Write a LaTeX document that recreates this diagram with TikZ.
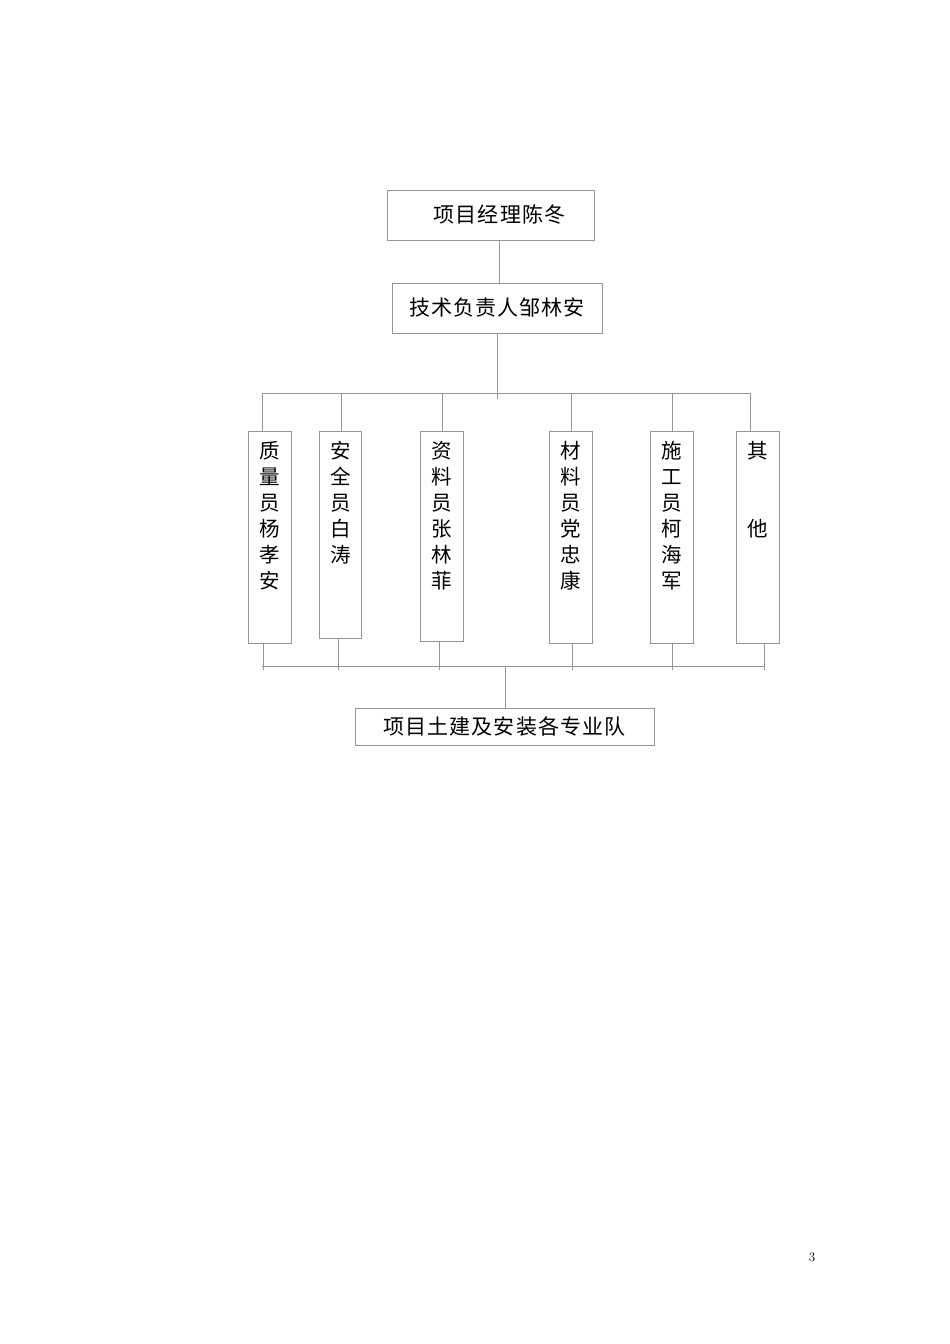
\documentclass[tikz,border=0pt]{standalone}
\usepackage{fontspec}
\usepackage{xcolor}
\usepackage{tikz}
\newfontfamily\cjk[LetterSpace=5]{Noto Sans CJK SC}
\newfontfamily\cjkv{Noto Sans CJK SC}
\definecolor{linegray}{RGB}{150,150,150}
\newcommand{\vtext}[2]{\parbox[c][#1][t]{40pt}{\centering\vspace*{10pt}#2}}
\tikzset{
  line/.style={draw=linegray,line width=0.8pt},
  hbox/.style={line,inner sep=0pt,font=\cjk\fontsize{21}{26}\selectfont},
  vbox/.style={line,inner sep=0pt,anchor=north west,minimum width=43pt,
    font=\cjkv\fontsize{20.5}{26}\selectfont}
}

\begin{document}
\begin{tikzpicture}[x=1pt,y=-1pt]
                \useasboundingbox (0,0) rectangle (950,1344);
                \node[hbox,minimum width=207pt,minimum height=50pt] (pm) at (490.5,215) {\raisebox{2pt}{\hspace*{18pt}项目经理陈冬}};
                \node[hbox,minimum width=210pt,minimum height=50pt] (tech) at (497,308) {\raisebox{2pt}{技术负责人邹林安}};
                \draw[line] (pm.south -| 499,0) -- (tech.north -| 499,0);
                \coordinate (techend) at (497,399);
                \draw[line] (tech.south) -- (techend);
                \draw[line] (262,393) -- (750,393);
                \node[vbox,minimum height=212pt] (qc) at (248,431) {\vtext{212pt}{质\\量\\员\\杨\\孝\\安}};
                \node[vbox,minimum width=42pt,minimum height=207pt] (sf) at (319,431) {\vtext{207pt}{安\\全\\员\\白\\涛}};
                \node[vbox,minimum height=210pt] (dc) at (420,431) {\vtext{210pt}{资\\料\\员\\张\\林\\菲}};
                \node[vbox,minimum height=212pt] (mt) at (549,431) {\vtext{212pt}{材\\料\\员\\党\\忠\\康}};
                \node[vbox,minimum height=212pt] (cw) at (650,431) {\vtext{212pt}{施\\工\\员\\柯\\海\\军}};
                \node[vbox,minimum height=212pt] (ot) at (736,431) {\vtext{212pt}{其\\[52pt]他}};
                \foreach \n/\x in {qc/262,sf/341,dc/442,mt/571,cw/672,ot/750}
                  \draw[line] (\n.north -| \x,0) -- (\x,393);
                \foreach \n/\x in {qc/263,sf/338,dc/439,mt/572,cw/672,ot/764}
                  \draw[line] (\n.south -| \x,0) -- (\x,670);
                \draw[line] (262,666) -- (764,666);
                \node[hbox,minimum width=299pt,minimum height=37pt] (team) at (504.5,726.5) {\raisebox{1pt}{项目土建及安装各专业队}};
                \draw[line] (team.north -| 505,0) -- (505,666);
                \node[font=\fontsize{13}{13}\selectfont] (pagenum) at (812,1257) {3};
            \end{tikzpicture}
\end{document}
